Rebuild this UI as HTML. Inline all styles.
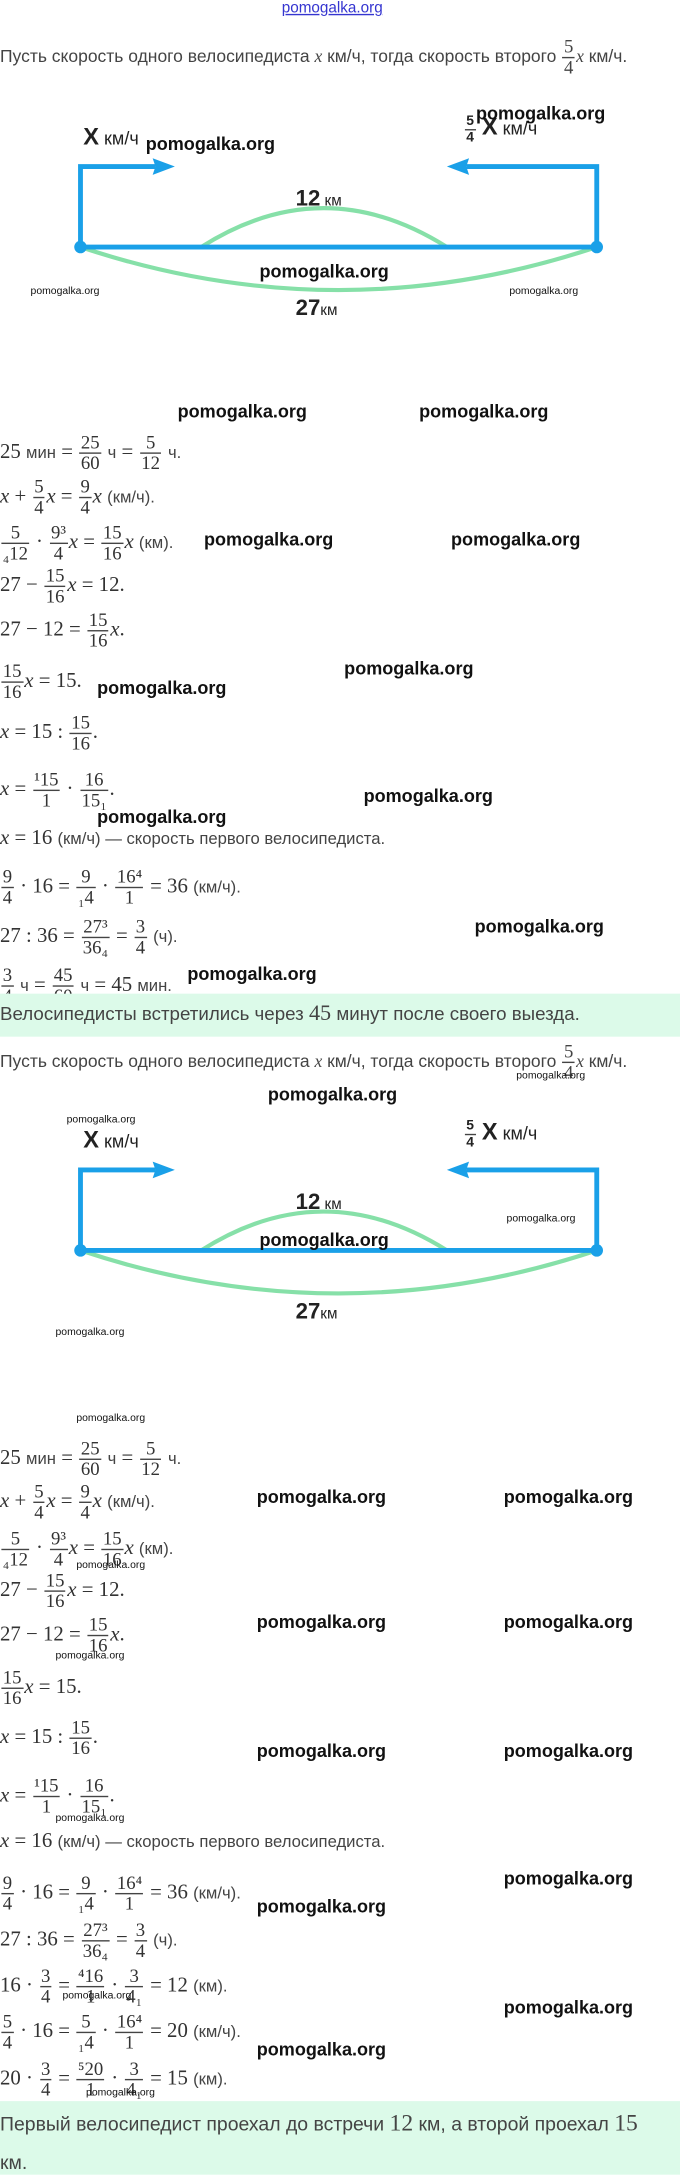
<!DOCTYPE html>
<html><head><meta charset="utf-8"><style>
html,body{margin:0;padding:0;background:#fff;width:680px;height:2175px;overflow:hidden}
#p{position:absolute;left:0;top:0;width:490px;height:1567px;transform:scale(1.3878);transform-origin:0 0}
.a{position:absolute;white-space:nowrap}
.t{font-family:"Liberation Sans",sans-serif;font-size:12.6px;color:#444}
.m{font-family:"Liberation Serif",serif;font-size:15px;color:#333;line-height:16px;left:0}
.m i{font-style:italic}
.m .s{font-family:"Liberation Sans",sans-serif;font-size:12px;color:#444}
.fr{display:inline-block;vertical-align:middle;text-align:center;font-size:13.5px;line-height:14px;margin:0 1px}
.fr>span{display:block;padding:0 1px}
.fr>span:first-child{border-bottom:1px solid #444}
.w{font-family:"Liberation Sans",sans-serif;font-weight:bold;font-size:13px;color:#111}
.ws{font-family:"Liberation Sans",sans-serif;font-size:7.5px;color:#111}
.g{position:absolute;left:0;width:490px;background:#dcfae9}
</style></head><body><div id="p">

<div class="a" style="left:203px;top:0;font-family:'Liberation Sans',sans-serif;font-size:11px;color:#3535d0;text-decoration:underline">pomogalka.org</div>
<div class="a t" style="left:0;top:27px">Пусть скорость одного велосипедиста <i style="font-family:'Liberation Serif'">x</i> км/ч, тогда скорость второго <span class="fr" style="font-family:'Liberation Serif'"><span>5</span><span>4</span></span><i style="font-family:'Liberation Serif'">x</i> км/ч.</div>

<svg class="a" style="left:0;top:80px" width="490" height="160" viewBox="0 80 490 160">
<path d="M145 178 Q233 122 322 178" fill="none" stroke="#86e0a8" stroke-width="3"/>
<path d="M58 178 Q244 240 430 178" fill="none" stroke="#86e0a8" stroke-width="3"/>
<path d="M58 178 V120 H112 M430 178 V120 H336 M58 178 H430" fill="none" stroke="#1aa0e8" stroke-width="3.5"/>
<path d="M126 120 L110 114 L112 120 L110 126Z M322 120 L338 114 L336 120 L338 126Z" fill="#1aa0e8"/>
<circle cx="58" cy="178" r="4.5" fill="#1aa0e8"/><circle cx="430" cy="178" r="4.5" fill="#1aa0e8"/>
</svg>
<div class="a" style="left:60px;top:89px;font-family:'Liberation Sans';font-size:13px;color:#222"><b style="font-size:17px">X</b> км/ч</div>
<div class="a" style="left:334px;top:82px;font-family:'Liberation Sans';font-size:13px;color:#222"><span class="fr" style="font-weight:bold;font-size:10px;line-height:11px"><span>5</span><span>4</span></span> <b style="font-size:17px">X</b> км/ч</div>
<div class="a" style="left:213px;top:135px;font-family:'Liberation Sans';font-size:11px;color:#222"><b style="font-size:16px">12</b> км</div>
<div class="a" style="left:213px;top:214px;font-family:'Liberation Sans';font-size:11px;color:#222"><b style="font-size:16px">27</b>км</div>
<div class="a w" style="left:105px;top:96px">pomogalka.org</div>
<div class="a w" style="left:343px;top:74px">pomogalka.org</div>
<div class="a w" style="left:187px;top:188px">pomogalka.org</div>
<div class="a ws" style="left:22px;top:205px">pomogalka.org</div>
<div class="a ws" style="left:367px;top:205px">pomogalka.org</div>

<div class="a m" style="top:312px">25 <span class="s">мин</span> = <span class="fr"><span>25</span><span>60</span></span> <span class="s">ч</span> = <span class="fr"><span>5</span><span>12</span></span> <span class="s">ч.</span></div>
<div class="a m" style="top:344px"><i>x</i> + <span class="fr"><span>5</span><span>4</span></span><i>x</i> = <span class="fr"><span>9</span><span>4</span></span><i>x</i> <span class="s">(км/ч).</span></div>
<div class="a m" style="top:377px"><span class="fr"><span>5</span><span>₄12</span></span> · <span class="fr"><span>9³</span><span>4</span></span><i>x</i> = <span class="fr"><span>15</span><span>16</span></span><i>x</i> <span class="s">(км).</span></div>
<div class="a m" style="top:408px">27 − <span class="fr"><span>15</span><span>16</span></span><i>x</i> = 12.</div>
<div class="a m" style="top:440px">27 − 12 = <span class="fr"><span>15</span><span>16</span></span><i>x</i>.</div>
<div class="a m" style="top:477px"><span class="fr"><span>15</span><span>16</span></span><i>x</i> = 15.</div>
<div class="a m" style="top:514px"><i>x</i> = 15 : <span class="fr"><span>15</span><span>16</span></span>.</div>
<div class="a m" style="top:555px"><i>x</i> = <span class="fr"><span>¹15</span><span>1</span></span> · <span class="fr"><span>16</span><span>15₁</span></span>.</div>
<div class="a m" style="top:596px"><i>x</i> = 16 <span class="s">(км/ч) — скорость первого велосипедиста.</span></div>
<div class="a m" style="top:625px"><span class="fr"><span>9</span><span>4</span></span> · 16 = <span class="fr"><span>9</span><span>₁4</span></span> · <span class="fr"><span>16⁴</span><span>1</span></span> = 36 <span class="s">(км/ч).</span></div>
<div class="a m" style="top:661px">27 : 36 = <span class="fr"><span>27³</span><span>36₄</span></span> = <span class="fr"><span>3</span><span>4</span></span> <span class="s">(ч).</span></div>
<div class="a m" style="top:696px"><span class="fr"><span>3</span><span>4</span></span> <span class="s">ч</span> = <span class="fr"><span>45</span><span>60</span></span> <span class="s">ч</span> = 45 <span class="s">мин.</span></div>
<div class="a w" style="left:128px;top:289px">pomogalka.org</div>
<div class="a w" style="left:302px;top:289px">pomogalka.org</div>
<div class="a w" style="left:147px;top:381px">pomogalka.org</div>
<div class="a w" style="left:325px;top:381px">pomogalka.org</div>
<div class="a w" style="left:70px;top:488px">pomogalka.org</div>
<div class="a w" style="left:248px;top:474px">pomogalka.org</div>
<div class="a w" style="left:262px;top:566px">pomogalka.org</div>
<div class="a w" style="left:70px;top:581px">pomogalka.org</div>
<div class="a w" style="left:342px;top:660px">pomogalka.org</div>
<div class="a w" style="left:135px;top:694px">pomogalka.org</div>

<div class="g" style="top:716px;height:31px"></div>
<div class="a t" style="left:0;top:722px;font-size:13.5px">Велосипедисты встретились через <span style="font-family:'Liberation Serif';font-size:16px">45</span> минут после своего выезда.</div>
<div class="a t" style="left:0;top:751px">Пусть скорость одного велосипедиста <i style="font-family:'Liberation Serif'">x</i> км/ч, тогда скорость второго <span class="fr" style="font-family:'Liberation Serif'"><span>5</span><span>4</span></span><i style="font-family:'Liberation Serif'">x</i> км/ч.</div>

<svg class="a" style="left:0;top:803px" width="490" height="160" viewBox="0 80 490 160">
<path d="M145 178 Q233 122 322 178" fill="none" stroke="#86e0a8" stroke-width="3"/>
<path d="M58 178 Q244 240 430 178" fill="none" stroke="#86e0a8" stroke-width="3"/>
<path d="M58 178 V120 H112 M430 178 V120 H336 M58 178 H430" fill="none" stroke="#1aa0e8" stroke-width="3.5"/>
<path d="M126 120 L110 114 L112 120 L110 126Z M322 120 L338 114 L336 120 L338 126Z" fill="#1aa0e8"/>
<circle cx="58" cy="178" r="4.5" fill="#1aa0e8"/><circle cx="430" cy="178" r="4.5" fill="#1aa0e8"/>
</svg>
<div class="a" style="left:60px;top:812px;font-family:'Liberation Sans';font-size:13px;color:#222"><b style="font-size:17px">X</b> км/ч</div>
<div class="a" style="left:334px;top:806px;font-family:'Liberation Sans';font-size:13px;color:#222"><span class="fr" style="font-weight:bold;font-size:10px;line-height:11px"><span>5</span><span>4</span></span> <b style="font-size:17px">X</b> км/ч</div>
<div class="a" style="left:213px;top:858px;font-family:'Liberation Sans';font-size:11px;color:#222"><b style="font-size:16px">12</b> км</div>
<div class="a" style="left:213px;top:937px;font-family:'Liberation Sans';font-size:11px;color:#222"><b style="font-size:16px">27</b>км</div>
<div class="a ws" style="left:372px;top:770px">pomogalka.org</div>
<div class="a w" style="left:193px;top:781px">pomogalka.org</div>
<div class="a ws" style="left:48px;top:802px">pomogalka.org</div>
<div class="a ws" style="left:365px;top:873px">pomogalka.org</div>
<div class="a w" style="left:187px;top:886px">pomogalka.org</div>
<div class="a ws" style="left:40px;top:955px">pomogalka.org</div>

<div class="a m" style="top:1037px">25 <span class="s">мин</span> = <span class="fr"><span>25</span><span>60</span></span> <span class="s">ч</span> = <span class="fr"><span>5</span><span>12</span></span> <span class="s">ч.</span></div>
<div class="a m" style="top:1068px"><i>x</i> + <span class="fr"><span>5</span><span>4</span></span><i>x</i> = <span class="fr"><span>9</span><span>4</span></span><i>x</i> <span class="s">(км/ч).</span></div>
<div class="a m" style="top:1102px"><span class="fr"><span>5</span><span>₄12</span></span> · <span class="fr"><span>9³</span><span>4</span></span><i>x</i> = <span class="fr"><span>15</span><span>16</span></span><i>x</i> <span class="s">(км).</span></div>
<div class="a m" style="top:1132px">27 − <span class="fr"><span>15</span><span>16</span></span><i>x</i> = 12.</div>
<div class="a m" style="top:1164px">27 − 12 = <span class="fr"><span>15</span><span>16</span></span><i>x</i>.</div>
<div class="a m" style="top:1202px"><span class="fr"><span>15</span><span>16</span></span><i>x</i> = 15.</div>
<div class="a m" style="top:1238px"><i>x</i> = 15 : <span class="fr"><span>15</span><span>16</span></span>.</div>
<div class="a m" style="top:1280px"><i>x</i> = <span class="fr"><span>¹15</span><span>1</span></span> · <span class="fr"><span>16</span><span>15₁</span></span>.</div>
<div class="a m" style="top:1319px"><i>x</i> = 16 <span class="s">(км/ч) — скорость первого велосипедиста.</span></div>
<div class="a m" style="top:1350px"><span class="fr"><span>9</span><span>4</span></span> · 16 = <span class="fr"><span>9</span><span>₁4</span></span> · <span class="fr"><span>16⁴</span><span>1</span></span> = 36 <span class="s">(км/ч).</span></div>
<div class="a m" style="top:1384px">27 : 36 = <span class="fr"><span>27³</span><span>36₄</span></span> = <span class="fr"><span>3</span><span>4</span></span> <span class="s">(ч).</span></div>
<div class="a m" style="top:1417px">16 · <span class="fr"><span>3</span><span>4</span></span> = <span class="fr"><span>⁴16</span><span>1</span></span> · <span class="fr"><span>3</span><span>4₁</span></span> = 12 <span class="s">(км).</span></div>
<div class="a m" style="top:1450px"><span class="fr"><span>5</span><span>4</span></span> · 16 = <span class="fr"><span>5</span><span>₁4</span></span> · <span class="fr"><span>16⁴</span><span>1</span></span> = 20 <span class="s">(км/ч).</span></div>
<div class="a m" style="top:1484px">20 · <span class="fr"><span>3</span><span>4</span></span> = <span class="fr"><span>⁵20</span><span>1</span></span> · <span class="fr"><span>3</span><span>4₁</span></span> = 15 <span class="s">(км).</span></div>
<div class="a ws" style="left:55px;top:1017px">pomogalka.org</div>
<div class="a w" style="left:185px;top:1071px">pomogalka.org</div>
<div class="a w" style="left:363px;top:1071px">pomogalka.org</div>
<div class="a ws" style="left:55px;top:1123px">pomogalka.org</div>
<div class="a w" style="left:185px;top:1161px">pomogalka.org</div>
<div class="a w" style="left:363px;top:1161px">pomogalka.org</div>
<div class="a ws" style="left:40px;top:1188px">pomogalka.org</div>
<div class="a w" style="left:185px;top:1254px">pomogalka.org</div>
<div class="a w" style="left:363px;top:1254px">pomogalka.org</div>
<div class="a ws" style="left:40px;top:1305px">pomogalka.org</div>
<div class="a w" style="left:185px;top:1366px">pomogalka.org</div>
<div class="a w" style="left:363px;top:1346px">pomogalka.org</div>
<div class="a ws" style="left:45px;top:1433px">pomogalka.org</div>
<div class="a w" style="left:363px;top:1439px">pomogalka.org</div>
<div class="a w" style="left:185px;top:1469px">pomogalka.org</div>
<div class="a ws" style="left:62px;top:1503px">pomogalka.org</div>

<div class="g" style="top:1514px;height:53px"></div>
<div class="a t" style="left:0;top:1520px;font-size:14px">Первый велосипедист проехал до встречи <span style="font-family:'Liberation Serif';font-size:17px">12</span> км, а второй проехал <span style="font-family:'Liberation Serif';font-size:17px">15</span></div>
<div class="a t" style="left:0;top:1550px;font-size:14px">км.</div>
</div></body></html>
